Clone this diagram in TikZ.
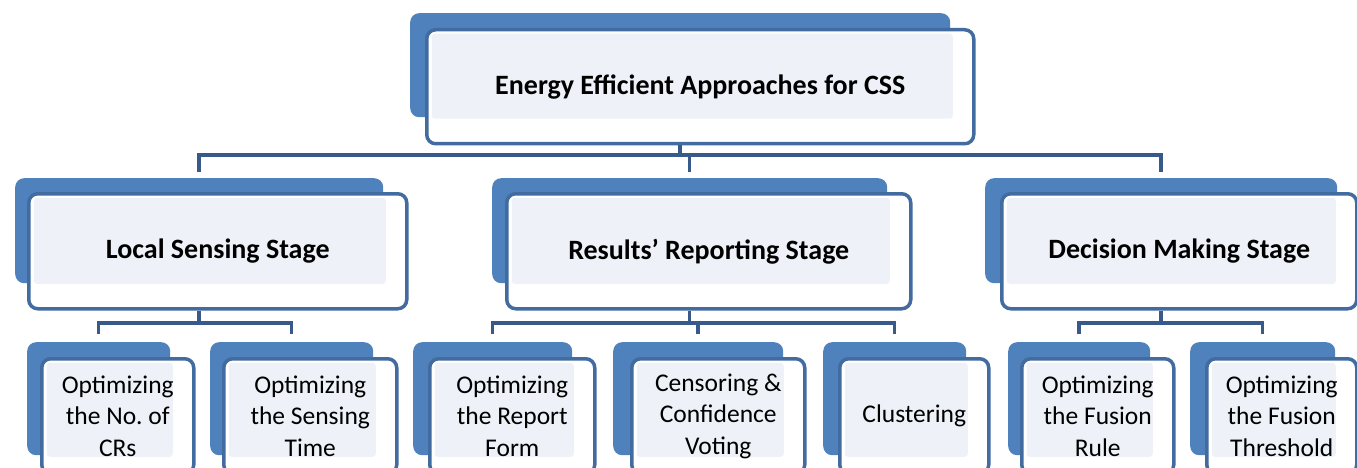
\documentclass[tikz,border=0pt]{standalone}
\usepackage{fontspec}
\setmainfont{Carlito}
\definecolor{cardblue}{RGB}{79,129,189}
\definecolor{cardedge}{RGB}{66,107,160}
\definecolor{cardface}{RGB}{238,242,248}
\definecolor{linkblue}{RGB}{56,90,138}

\begin{document}
\begin{tikzpicture}[x=1pt,y=-1pt,
    cardback/.style={anchor=north west,fill=cardblue,rounded corners=9pt,inner sep=0pt},
    cardfront/.style={anchor=north west,draw=cardedge,line width=3.5pt,fill=white,
        rounded corners=9pt,inner sep=0pt,align=center,
        path picture={\fill[cardface,rounded corners=3pt]
            ([xshift=5pt,yshift=-4pt]path picture bounding box.north west) rectangle
            ([xshift=-21pt,yshift=#1]path picture bounding box.south east);}},
    cardfront/.default=25pt,
    stage/.style={cardfront,font=\bfseries\fontsize{28}{34}\selectfont},
    substage/.style={cardfront=17pt,font=\fontsize{25.5}{31.5}\selectfont},
    link/.style={draw=linkblue,line width=3.5pt}]
    \useasboundingbox (0,0) rectangle (1357,468);
    \clip (0,0) rectangle (1357,468);
    \fill[white] (0,0) rectangle (1357,468);

    % top
    \node[cardback,minimum width=540pt,minimum height=104pt] (css-back) at (410,13) {};
    \node[stage,minimum width=547pt,minimum height=114pt] (css) at (425,28) {Energy Efficient Approaches for CSS};

    % stages
    \node[cardback,minimum width=368pt,minimum height=105pt] (local-back) at (15,178) {};
    \node[stage,minimum width=378pt,minimum height=115pt] (local) at (27,192) {Local Sensing Stage};
    \node[cardback,minimum width=395pt,minimum height=105pt] (results-back) at (492,178) {};
    \node[stage,minimum width=404pt,minimum height=115pt] (results) at (505,192) {Results' Reporting Stage};
    \node[cardback,minimum width=352pt,minimum height=105pt] (decision-back) at (985,178) {};
    \node[stage,minimum width=355pt,minimum height=115pt] (decision) at (1000,192) {Decision Making Stage};

    % approaches
    \node[cardback,minimum width=143pt,minimum height=113pt] (noCRs-back) at (27,342) {};
    \node[substage,minimum width=152pt,minimum height=115pt] (noCRs) at (40,357) {Optimizing\\the No.\ of\\CRs};
    \node[cardback,minimum width=163pt,minimum height=113pt] (senseTime-back) at (210,342) {};
    \node[substage,minimum width=173pt,minimum height=115pt] (senseTime) at (222,357) {Optimizing\\the Sensing\\Time};
    \node[cardback,minimum width=159pt,minimum height=113pt] (reportForm-back) at (413,342) {};
    \node[substage,minimum width=165pt,minimum height=115pt] (reportForm) at (428,357) {Optimizing\\the Report\\Form};
    \node[cardback,minimum width=170pt,minimum height=113pt] (censoring-back) at (613,342) {};
    \node[substage,minimum width=173pt,minimum height=115pt] (censoring) at (630,357) {Censoring \&\\Confidence\\Voting};
    \node[cardback,minimum width=143pt,minimum height=113pt] (clustering-back) at (823,342) {};
    \node[substage,minimum width=149pt,minimum height=115pt] (clustering) at (838,357) {Clustering};
    \node[cardback,minimum width=142pt,minimum height=113pt] (fusionRule-back) at (1008,342) {};
    \node[substage,minimum width=152pt,minimum height=115pt] (fusionRule) at (1020,357) {Optimizing\\the Fusion\\Rule};
    \node[cardback,minimum width=145pt,minimum height=113pt] (fusionThr-back) at (1190,342) {};
    \node[substage,minimum width=150pt,minimum height=115pt] (fusionThr) at (1205,357) {Optimizing\\the Fusion\\Threshold};

    \coordinate (bus1) at (0,155);
    \coordinate (bus2) at (0,323);

    \draw[link] (css-back.south |- css.south) -- (css-back.south |- bus1);
    \draw[link] ([yshift=6pt]local-back.north) -- (local-back.north |- bus1) -- (decision-back.north |- bus1) -- ([yshift=6pt]decision-back.north);
    \draw[link] (results-back.north |- bus1) -- ([yshift=6pt]results-back.north);

    \draw[link] (local-back.south |- local.south) -- (local-back.south |- bus2);
    \draw[link] ([yshift=8pt]noCRs-back.north) -- (noCRs-back.north |- bus2) -- (senseTime-back.north |- bus2) -- ([yshift=8pt]senseTime-back.north);
    \draw[link] (results-back.south |- results.south) -- (results-back.south |- bus2);
    \draw[link] ([yshift=8pt]reportForm-back.north) -- (reportForm-back.north |- bus2) -- (clustering-back.north |- bus2) -- ([yshift=8pt]clustering-back.north);
    \draw[link] (censoring-back.north |- bus2) -- ([yshift=8pt]censoring-back.north);
    \draw[link] (decision-back.south |- decision.south) -- (decision-back.south |- bus2);
    \draw[link] ([yshift=8pt]fusionRule-back.north) -- (fusionRule-back.north |- bus2) -- (fusionThr-back.north |- bus2) -- ([yshift=8pt]fusionThr-back.north);
\end{tikzpicture}
\end{document}
